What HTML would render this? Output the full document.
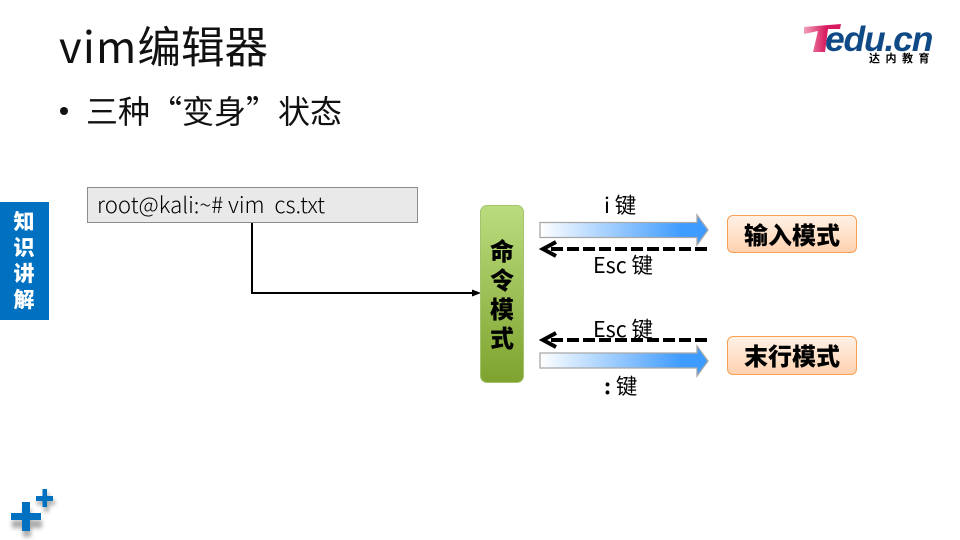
<!DOCTYPE html>
<html><head><meta charset="utf-8">
<style>
html,body{margin:0;padding:0;background:#fff}
#p{position:relative;width:960px;height:540px;overflow:hidden;background:#fff;font-family:"Noto Sans CJK SC","Liberation Sans",sans-serif;color:#1a1a1a}
.t{position:absolute;white-space:pre;line-height:1}
.m{position:absolute;left:727px;width:130px;box-sizing:border-box;border:1px solid #f9a054;border-radius:6px;background:linear-gradient(#fff1e6,#ffd2b0);text-align:center;font-weight:900;font-size:24px;color:#000}
</style></head><body><div id="p">
<div class="t" style="left:59px;top:18px;font-size:43.500px;line-height:54px;color:#111"><span style="letter-spacing:1.200px">vim</span>编辑器</div>
<div style="position:absolute;left:60px;top:107px;width:8px;height:8px;border-radius:50%;background:#111"></div>
<div class="t" style="left:86px;top:90px;font-size:32px;line-height:40px;color:#111">三种“变身”状态</div>

<div style="position:absolute;left:0;top:202px;width:49px;height:118px;background:#0070c0"></div>
<div class="t" style="left:12px;top:208px;width:24px;color:#fff;font-weight:900;font-size:21px;line-height:26px;white-space:normal;text-align:center">知识讲解</div>

<div style="position:absolute;left:87px;top:187px;width:331px;height:36px;box-sizing:border-box;background:#e9e9e9;border:1px solid #8c8c8c"></div>
<div class="t" style="left:97px;top:190px;font-size:22.200px;line-height:28px;font-weight:300;color:#000">root@kali:~# vim  cs.txt</div>

<svg width="960" height="540" style="position:absolute;left:0;top:0">
<defs>
<linearGradient id="g"><stop offset="0" stop-color="#fff"/><stop offset=".85" stop-color="#3e9bff"/><stop offset="1" stop-color="#3e9bff"/></linearGradient>
<filter id="s" x="-30%" y="-30%" width="160%" height="160%"><feGaussianBlur stdDeviation="2"/></filter>
</defs>
<polyline points="252,223 252,293 474,293" fill="none" stroke="#000" stroke-width="2"/>
<polygon points="481,293 472,289.5 472,296.5" fill="#000"/>
<polygon points="540,222.500 697,222.500 697,215 708,230 697,245 697,237.500 540,237.500" fill="url(#g)" stroke="#a8a8a8" stroke-width="1.300"/>
<polygon points="540,353 697,353 697,346 708,361 697,376 697,368 540,368" fill="url(#g)" stroke="#a8a8a8" stroke-width="1.300"/>
<g fill="none" stroke="#000" stroke-width="4">
<line x1="707" y1="249" x2="546" y2="249" stroke-dasharray="12 4"/>
<polyline points="556,242 543,249 556,256"/>
<line x1="707" y1="340" x2="546" y2="340" stroke-dasharray="12 4"/>
<polyline points="556,333 543,340 556,347"/>
</g>
<g fill="#666" opacity=".55" filter="url(#s)">
<path d="M22 505h8v11h11v8h-11v9h-8v-9h-11v-8h11z" transform="translate(1,4)"/>
<path d="M43 489h5v7h6v5h-6v7h-5v-7h-7v-5h7z" transform="translate(1,4)"/>
</g>
<g fill="#0070c0">
<path d="M22 502h8v11h11v7h-11v11h-8v-11h-11v-7h11z"/>
<path d="M42.500 489h4.500v7h6v5h-6v6h-4.500v-6h-6.500v-5h6.500z"/>
</g>
</svg>

<div style="position:absolute;left:480px;top:205px;width:44px;height:178px;box-sizing:border-box;border:1px solid #a3c46f;border-radius:7px;background:linear-gradient(#bbdc7e,#7fa32f)"></div>
<div class="t" style="left:490px;top:235px;width:24px;font-size:24px;line-height:29px;font-weight:900;color:#000;white-space:normal;text-align:center">命令模式</div>

<div class="m" style="top:215px;height:38px;line-height:35px">输入模式</div>
<div class="m" style="top:336px;height:39px;line-height:36px">末行模式</div>

<div class="t" style="left:604px;top:191px;font-size:21.500px;line-height:28px;font-weight:400;color:#000">i 键</div>
<div class="t" style="left:593px;top:251px;font-size:21.500px;line-height:28px;font-weight:400;color:#000">Esc 键</div>
<div class="t" style="left:593px;top:315px;font-size:21.500px;line-height:28px;font-weight:400;color:#000">Esc 键</div>
<div class="t" style="left:604px;top:372px;font-size:21.500px;line-height:28px;font-weight:400;color:#000"><b>:</b> 键</div>

<div class="t" style="left:825px;top:21px;font-family:'Liberation Sans',sans-serif;font-weight:700;font-style:italic;font-size:35.500px;line-height:36px;letter-spacing:-1.200px;color:#0f4a86">edu.cn</div>
<svg width="140" height="60" style="position:absolute;left:800px;top:15px">
<defs><linearGradient id="r" x1="0" x2="1" y1="0" y2="0"><stop offset="0" stop-color="#f2a0b8"/><stop offset=".6" stop-color="#d81a60"/></linearGradient></defs>
<polygon points="4,12 41,9 40,14 28,14 25,37 13,37 18,16 4,19" fill="url(#r)"/>
</svg>
<div class="t" style="left:869px;top:52px;font-size:11px;line-height:12px;font-weight:700;letter-spacing:5.500px;color:#000">达内教育</div>
</div></body></html>
